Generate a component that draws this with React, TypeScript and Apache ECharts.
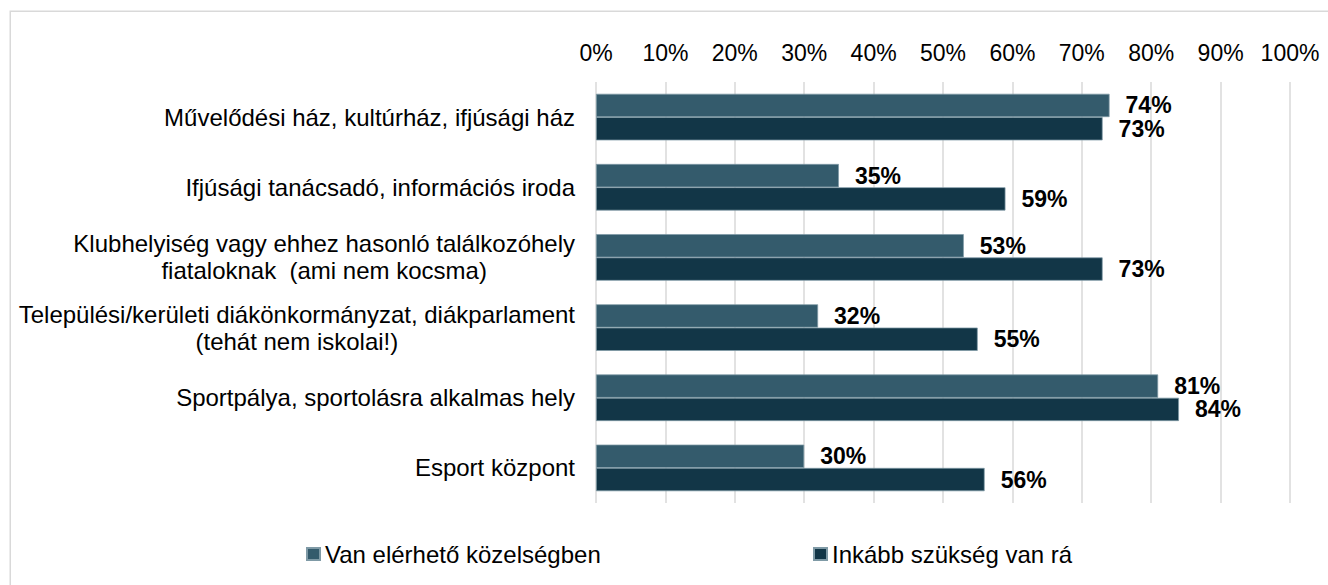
import React, { useEffect, useRef } from "react";
import * as echarts from "echarts";

const categories: string[] = [
  "Művelődési ház, kultúrház, ifjúsági ház",
  "Ifjúsági tanácsadó, információs iroda",
  "Klubhelyiség vagy ehhez hasonló találkozóhely\nfiataloknak  (ami nem kocsma)",
  "Települési/kerületi diákönkormányzat, diákparlament\n(tehát nem iskolai!)",
  "Sportpálya, sportolásra alkalmas hely",
  "Esport központ",
];

const seriesNames: string[] = ["Van elérhető közelségben", "Inkább szükség van rá"];
const availableValues: number[] = [74, 35, 53, 32, 81, 30];
const neededValues: number[] = [73, 59, 73, 55, 84, 56];
const seriesColors: string[] = ["#345b6c", "#123647"];

const FONT = "Liberation Sans, Arial, Helvetica, sans-serif";

export default function App() {
  const ref = useRef<HTMLDivElement>(null);

  useEffect(() => {
    if (!ref.current) return;
    const chart = echarts.init(ref.current, null, { renderer: "svg" });

    const labelStyle = {
      color: "#000",
      fontSize: 23,
      fontWeight: "bold" as const,
      fontFamily: FONT,
    };

    chart.setOption({
      animation: false,
      backgroundColor: "#fff",
      graphic: [
        {
          type: "rect",
          shape: { x: 10.25, y: 11.25, width: 1400, height: 700 },
          style: { fill: "none", stroke: "#d9d9d9", lineWidth: 1.5 },
          silent: true,
        },
      ],
      grid: { left: 596, right: 38, top: 82, bottom: 82, containLabel: false },
      xAxis: {
        type: "value",
        position: "top",
        min: 0,
        max: 100,
        interval: 10,
        axisLine: { show: false },
        axisTick: { show: false },
        splitLine: { show: true, lineStyle: { color: "#d9d9d9", width: 1.5 } },
        axisLabel: {
          formatter: "{value}%",
          color: "#000",
          fontSize: 23,
          fontFamily: FONT,
          margin: 18,
        },
      },
      yAxis: {
        type: "category",
        inverse: true,
        data: categories,
        axisLine: { show: false },
        axisTick: { show: false },
        splitLine: { show: false },
        axisLabel: {
          color: "#000",
          fontSize: 24,
          fontFamily: FONT,
          lineHeight: 27,
          margin: 21,
          align: "right",
          formatter: (v: string) =>
            v.indexOf("\n") >= 0
              ? v
                  .split("\n")
                  .map((l) => "{c|" + l + "}")
                  .join("\n")
              : v,
          rich: {
            c: {
              color: "#000",
              fontSize: 24,
              fontFamily: FONT,
              lineHeight: 27,
              align: "center",
            },
          },
        },
      },
      legend: [
        {
          data: [seriesNames[0]],
          left: 306,
          top: 542,
          padding: 0,
          icon: "rect",
          itemWidth: 13,
          itemHeight: 12,
          textStyle: { color: "#000", fontSize: 24, fontFamily: FONT, lineHeight: 24 },
        },
        {
          data: [seriesNames[1]],
          left: 813,
          top: 542,
          padding: 0,
          icon: "rect",
          itemWidth: 13,
          itemHeight: 12,
          textStyle: { color: "#000", fontSize: 24, fontFamily: FONT, lineHeight: 24 },
        },
      ],
      series: [
        {
          name: seriesNames[0],
          type: "bar",
          data: availableValues,
          barGap: "0%",
          barCategoryGap: "33.6%",
          itemStyle: { color: seriesColors[0], borderColor: "#7f9aa6", borderWidth: 0.75 },
          label: { show: true, position: "right", distance: 16, formatter: "{c}%", ...labelStyle },
        },
        {
          name: seriesNames[1],
          type: "bar",
          data: neededValues,
          barGap: "0%",
          barCategoryGap: "33.6%",
          itemStyle: { color: seriesColors[1], borderColor: "#7f9aa6", borderWidth: 0.75 },
          label: { show: true, position: "right", distance: 16, formatter: "{c}%", ...labelStyle },
        },
      ],
    });

    return () => chart.dispose();
  }, []);

  return (
    <div
      ref={ref}
      style={{ position: "fixed", left: 0, top: 0, width: 1328, height: 585 }}
    />
  );
}
